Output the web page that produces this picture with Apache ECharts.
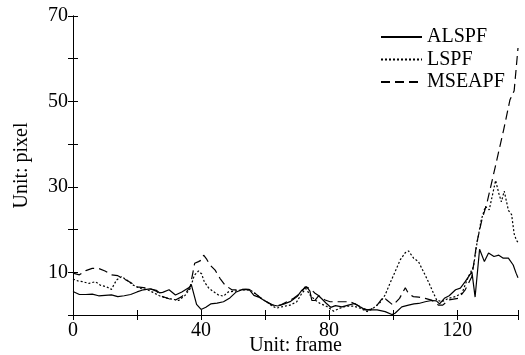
<!DOCTYPE html>
<html><head><meta charset="utf-8">
<script src="https://cdn.jsdelivr.net/npm/echarts@6/dist/echarts.min.js"></script>
<style>html,body{margin:0;padding:0;background:#fff}#c{width:525px;height:355px}</style>
</head><body><div id="c"></div>
<script>
const seriesNames = ['ALSPF', 'LSPF', 'MSEAPF'];
const xTickLabels = [0, 40, 80, 120];
const yTickLabels = [10, 30, 50, 70];

const alspfFrames = [0,2,4,6,8,10,12,14,16,18,20,22,24,26,27,28,30,32,34,36,37,38.6,40,41.5,43,45,47,49,51,53,55,56.5,58,60,62,64,66,68,70,71.5,73,74,74.6,75.6,76.7,77.7,79,80.5,82,84,86,88,89.7,91.3,93,95,97.5,99.6,100.6,102.7,104.8,106.5,108,110,112,113.5,114.5,116,117.5,119.5,121,122.5,124.6,125.6,127,128.5,129.8,131.5,133,134.4,136,137.5,138.4,139];
const alspfValues = [5.5,4.8,4.8,4.9,4.5,4.6,4.7,4.3,4.5,4.8,5.4,5.9,6.1,5.8,5.2,5.3,5.9,4.7,5.4,6.3,7.0,2.5,1.3,1.8,2.6,2.8,3.1,4.0,5.4,6.0,6.0,4.6,4.2,3.3,2.4,2.1,2.6,3.2,4.3,5.8,6.6,5.6,3.4,3.4,4.5,3.8,2.8,1.8,2.2,1.9,2.3,2.7,1.9,1.2,1.2,1.2,0.8,0.1,0.4,1.9,2.3,2.6,2.7,3.1,3.4,3.3,2.6,3.9,4.5,5.9,6.3,7.8,10.1,4.2,15.4,12.5,14.5,13.7,14.0,13.3,13.3,11.7,9.8,8.7];

const lspfFrames = [0,1.5,3,5,7,8.5,10.5,12,13.6,15.2,16.8,18.8,21,23,25,27,29,31,33,35,36.6,37.9,39.2,40.2,41,42.3,43.8,45.4,47,48.5,50.6,53,55.5,57.4,59,60.5,62,63.6,65.7,67.8,69.9,71.5,72.8,74,75.6,77.2,79.3,81.4,83.4,85.5,87.6,89.7,91.8,93.5,96,97.5,99,100.6,102.2,103.8,104.8,106.4,107.9,109.5,111,112.6,113.6,115.2,117.3,119.4,121.5,123.5,125.1,126.1,127.5,128.8,130,131,132,133,133.8,134.7,136,137,137.8,138.5,139];
const lspfValues = [8.4,8.0,7.8,7.4,7.8,7.0,6.6,6.0,8.2,9.0,8.2,7.0,6.2,6.0,5.3,4.5,4.0,3.7,3.4,4.6,6.2,9.3,10.3,9.6,7.8,6.4,5.5,4.7,4.4,5.4,5.6,5.9,5.8,4.7,3.8,3.1,2.2,1.6,2.0,2.3,3.1,5.1,6.2,4.7,3.5,2.7,2.0,0.9,1.6,2.1,2.1,1.6,0.8,1.4,3.0,4.7,7.4,10.1,12.9,14.6,15.0,13.3,12.5,10.1,7.8,5.1,3.5,3.1,3.9,4.3,5.1,9.0,11.3,16.4,22.2,25.4,24.6,28.0,31.5,28.5,26.5,29.0,24.5,23.5,19.0,17.5,17.0];

const mseapfFrames = [0,2,4,6,8,10,12,14,16,18,20,22,24,26,28,30,32,34,35.5,36.6,38,39.2,40.2,40.8,41.8,42.8,44.4,45.9,47.5,49.6,52,54,55.5,57,59,60.5,62.6,64.7,66.8,68.9,71,72.5,74,75.6,77.2,78.75,80.3,86.6,88,89.7,91.8,93,95,97,98,100,102,103.8,104.8,106.3,108,110,112,114.2,115.5,117.3,120.4,122.5,124.6,126.1,127.7,129.3,131.9,134.5,136.5,137.8,139];
const mseapfValues = [9.8,9.4,10.4,10.9,10.9,10.3,9.4,9.2,8.4,7.6,6.6,6.4,6.2,5.6,4.3,3.8,3.5,4.3,5.5,6.6,12.1,12.5,12.9,14.0,13.0,11.7,10.5,8.6,7.0,5.9,5.9,6.0,5.9,5.0,3.8,3.1,2.3,2.3,3.1,3.9,5.1,6.6,6.2,5.1,4.3,3.5,3.1,3.1,2.6,2.0,1.2,1.3,2.3,4.3,3.5,2.3,3.9,6.4,5.0,4.3,4.2,3.9,3.5,2.3,2.3,3.5,3.9,5.9,9.0,16.8,22.2,26.2,34.7,43.3,50.4,52.5,62.5];

const FONT = '"Liberation Serif","Times New Roman",serif';
function pairs(f, v) { return f.map((x, i) => [x, v[i]]); }

const chart = echarts.init(document.getElementById('c'), null, {renderer: 'canvas'});
const axisLineStyle = {lineStyle: {color: '#000', width: 1}};
const tick = {show: true, inside: false, length: -5, lineStyle: {color: '#000', width: 1}};
chart.setOption({
  animation: false,
  backgroundColor: '#fff',
  grid: {left: 73, top: 16, width: 445, height: 299, containLabel: false, outerBoundsMode: 'none'},
  legend: {
    data: seriesNames, orient: 'vertical', left: 380, top: 27, padding: 0,
    itemWidth: 41, itemHeight: 10, itemGap: 2.5,
    itemStyle: {opacity: 0},
    textStyle: {fontFamily: FONT, fontSize: 20, color: '#000', lineHeight: 20}
  },
  xAxis: [{
    type: 'value', min: 0, max: 139, interval: 20, position: 'bottom',
    name: 'Unit: frame', nameLocation: 'middle', nameGap: 21, nameMoveOverlap: false,
    nameTextStyle: {fontFamily: FONT, fontSize: 20, color: '#000', verticalAlign: 'top'},
    axisLine: axisLineStyle, splitLine: {show: false},
    axisTick: tick,
    axisLabel: {fontFamily: FONT, fontSize: 20, color: '#000', margin: 6,
      formatter: v => xTickLabels.includes(v) ? String(v) : ''}
  }, {
    type: 'value', min: 0, max: 139, interval: 20, position: 'top',
    axisLine: axisLineStyle, splitLine: {show: false},
    axisTick: tick,
    axisLabel: {show: false}
  }],
  yAxis: [{
    type: 'value', min: 0, max: 70, interval: 10, position: 'left',
    name: 'Unit: pixel', nameLocation: 'middle', nameGap: 41, nameMoveOverlap: false,
    nameTextStyle: {fontFamily: FONT, fontSize: 20, color: '#000'},
    axisLine: {show: true, lineStyle: {color: '#000', width: 1}}, splitLine: {show: false},
    axisTick: tick,
    axisLabel: {fontFamily: FONT, fontSize: 20, color: '#000', margin: 5,
      formatter: v => yTickLabels.includes(v) ? String(v) : ''}
  }, {
    type: 'value', min: 0, max: 70, interval: 10, position: 'right',
    axisLine: {show: true, lineStyle: {color: '#000', width: 1}}, splitLine: {show: false},
    axisTick: tick,
    axisLabel: {show: false}
  }],
  series: [
    {name: 'ALSPF', type: 'line', symbol: 'none', data: pairs(alspfFrames, alspfValues),
     lineStyle: {color: '#000', width: 1.2, type: 'solid'}, itemStyle: {color: '#000'}},
    {name: 'LSPF', type: 'line', symbol: 'none', data: pairs(lspfFrames, lspfValues),
     lineStyle: {color: '#000', width: 1.2, type: [2, 2]}, itemStyle: {color: '#000'}},
    {name: 'MSEAPF', type: 'line', symbol: 'none', data: pairs(mseapfFrames, mseapfValues),
     lineStyle: {color: '#000', width: 1.2, type: [9, 5]}, itemStyle: {color: '#000'}}
  ]
});
</script>
</body></html>
